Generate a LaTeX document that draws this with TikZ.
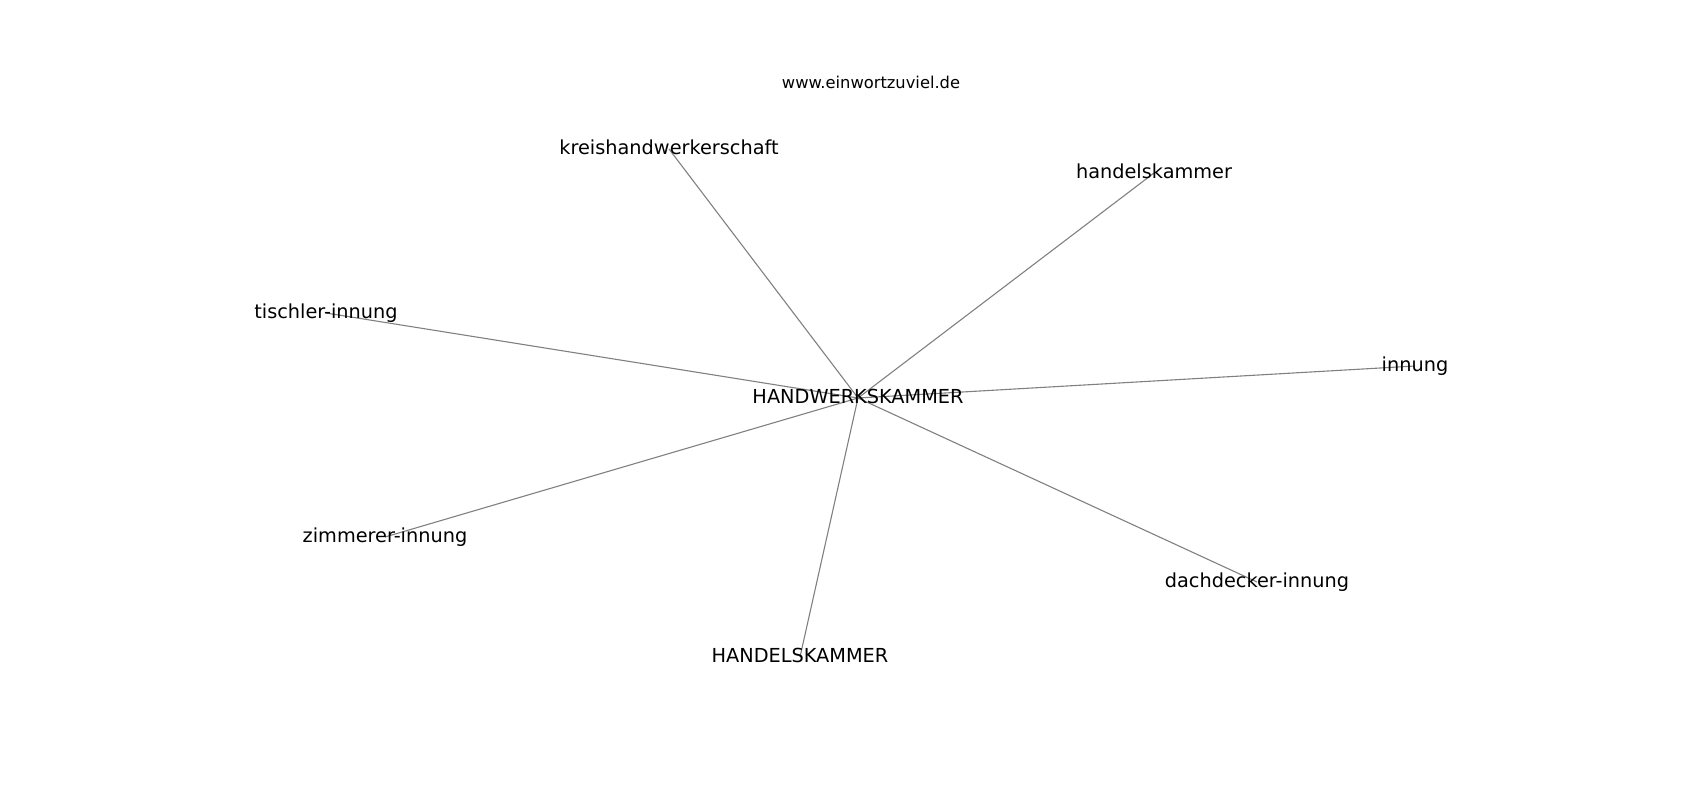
\documentclass[tikz,border=0pt]{standalone}
\usepackage{fontspec}
\setmainfont{DejaVu Sans}
\usetikzlibrary{backgrounds}

\begin{document}
\begin{tikzpicture}[x=1pt,y=-1pt]
				\tikzset{word node/.style={inner sep=0pt,anchor=center,font=\fontsize{19.3}{23}\selectfont,text height=1.2em,text depth=0.14em}}
				\tikzset{title node/.style={word node,font=\fontsize{16.3}{19}\selectfont}}
				\tikzset{link/.style={draw=gray,line width=1.1pt}}
				\useasboundingbox (0,0) rectangle (1700,800);
				\node[title node] (site) at (871,83) {www.einwortzuviel.de};
				\node[word node] (hwk) at (858,398) {HANDWERKSKAMMER};
				\node[word node] (kreis) at (669,149) {kreishandwerkerschaft};
				\node[word node] (hk) at (1154,173) {handelskammer};
				\node[word node] (tischler) at (326,313) {tischler-innung};
				\node[word node] (innung) at (1415,366) {innung};
				\node[word node] (zimmerer) at (385,537) {zimmerer-innung};
				\node[word node] (dachdecker) at (1257,582) {dachdecker-innung};
				\node[word node] (HK) at (800,657) {HANDELSKAMMER};
				\begin{scope}[on background layer]
					\foreach \n in {kreis,hk,tischler,innung,zimmerer,dachdecker,HK}
						\draw[link] (hwk.center) -- (\n.center);
				\end{scope}
			\end{tikzpicture}
\end{document}
